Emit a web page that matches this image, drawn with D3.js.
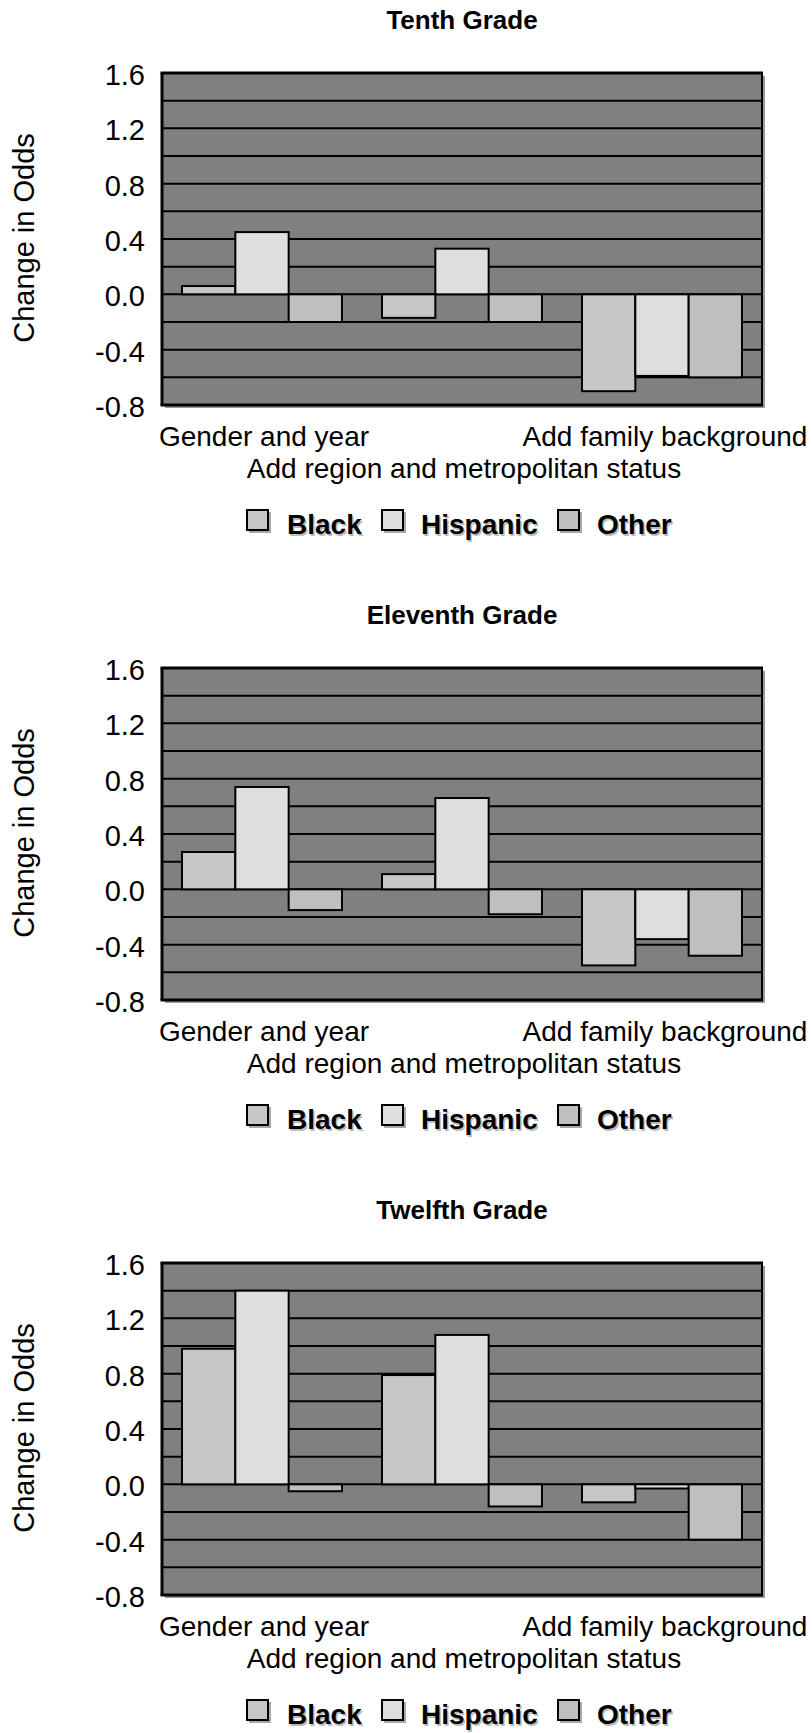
<!DOCTYPE html>
<html>
<head>
<meta charset="utf-8">
<script src="https://cdn.jsdelivr.net/npm/d3@7"></script>
<style>
  html, body { margin: 0; padding: 0; background: #fff; }
  svg { display: block; font-family: "Liberation Sans", Arial, Helvetica, sans-serif; }
</style>
</head>
<body>
<svg id="chart" width="812" height="1733"></svg>
<script>
// ---- data ----
const grades = ["Tenth Grade", "Eleventh Grade", "Twelfth Grade"];
const categories = ["Gender and year", "Add region and metropolitan status", "Add family background"];
const seriesNames = ["Black", "Hispanic", "Other"];
const tenthBlack = [0.06, -0.17, -0.70];
const tenthHispanic = [0.45, 0.33, -0.59];
const tenthOther = [-0.20, -0.20, -0.60];
const eleventhBlack = [0.27, 0.11, -0.55];
const eleventhHispanic = [0.74, 0.66, -0.36];
const eleventhOther = [-0.15, -0.18, -0.48];
const twelfthBlack = [0.98, 0.79, -0.13];
const twelfthHispanic = [1.40, 1.08, -0.03];
const twelfthOther = [-0.05, -0.16, -0.40];
const yTickValues = [-0.8, -0.4, 0.0, 0.4, 0.8, 1.2, 1.6];
const yTickLabels = ["-0.8", "-0.4", "0.0", "0.4", "0.8", "1.2", "1.6"];
const gridValues = [-0.8, -0.6, -0.4, -0.2, 0.0, 0.2, 0.4, 0.6, 0.8, 1.0, 1.2, 1.4, 1.6];
const yTitle = "Change in Odds";

const panels = [
  { title: grades[0], values: [tenthBlack, tenthHispanic, tenthOther] },
  { title: grades[1], values: [eleventhBlack, eleventhHispanic, eleventhOther] },
  { title: grades[2], values: [twelfthBlack, twelfthHispanic, twelfthOther] }
];

// ---- styling / layout ----
const colors = { Black: "#c6c6c6", Hispanic: "#dedede", Other: "#bfbfbf" };
const plotLeft = 162, plotWidth = 600, plotTop = 73, plotHeight = 332;
const panelStep = 595;
const fontSize = 29;
const catFont = 28;
const legendFont = 28;

const svg = d3.select("#chart");

const x0 = d3.scaleBand().domain(categories).range([0, plotWidth]).padding(0);
const x1 = d3.scaleBand().domain(seriesNames).range([0, x0.bandwidth()]).paddingInner(0).paddingOuter(0.375);
const y = d3.scaleLinear().domain([-0.8, 1.6]).range([plotHeight, 0]);

panels.forEach((p, i) => {
  const off = i * panelStep;
  const g = svg.append("g").attr("transform", `translate(${plotLeft},${plotTop + off})`);

  // title
  svg.append("text")
    .attr("x", 462).attr("y", 29 + off)
    .attr("text-anchor", "middle")
    .attr("font-weight", "bold").attr("font-size", 26)
    .text(p.title);

  // shadow of plot frame
  g.append("rect")
    .attr("x", 3).attr("y", 3)
    .attr("width", plotWidth).attr("height", plotHeight)
    .attr("fill", "#9a9a9a");
  // plot background
  g.append("rect")
    .attr("x", 0).attr("y", 0)
    .attr("width", plotWidth).attr("height", plotHeight)
    .attr("fill", "#808080");

  // grid lines
  g.selectAll("line.grid").data(gridValues).enter().append("line")
    .attr("class", "grid")
    .attr("x1", 0).attr("x2", plotWidth)
    .attr("y1", d => y(d)).attr("y2", d => y(d))
    .attr("stroke", "#000").attr("stroke-width", 2);

  // bars
  const rows = categories.map((c, ci) => ({ cat: c, vals: seriesNames.map((s, si) => ({ s, v: p.values[si][ci] })) }));
  const cg = g.selectAll("g.cat").data(rows).enter().append("g")
    .attr("transform", d => `translate(${x0(d.cat)},0)`);
  cg.selectAll("rect").data(d => d.vals).enter().append("rect")
    .attr("x", d => x1(d.s))
    .attr("y", d => y(Math.max(0, d.v)))
    .attr("width", x1.bandwidth())
    .attr("height", d => Math.abs(y(d.v) - y(0)))
    .attr("fill", d => colors[d.s])
    .attr("stroke", "#000").attr("stroke-width", 2);

  // frame
  g.append("line").attr("x1", -1.5).attr("x2", plotWidth + 1).attr("y1", 0).attr("y2", 0)
    .attr("stroke", "#000").attr("stroke-width", 3);
  g.append("line").attr("x1", -1.5).attr("x2", plotWidth + 1).attr("y1", plotHeight).attr("y2", plotHeight)
    .attr("stroke", "#000").attr("stroke-width", 3);
  g.append("line").attr("x1", 0).attr("x2", 0).attr("y1", 0).attr("y2", plotHeight)
    .attr("stroke", "#000").attr("stroke-width", 3);
  g.append("line").attr("x1", plotWidth).attr("x2", plotWidth).attr("y1", 0).attr("y2", plotHeight)
    .attr("stroke", "#000").attr("stroke-width", 2);

  // y axis labels
  const yAxis = d3.axisLeft(y).tickValues(yTickValues)
    .tickFormat((d, k) => yTickLabels[k]).tickSize(0).tickPadding(17);
  const ya = g.append("g").call(yAxis);
  ya.select(".domain").remove();
  ya.selectAll("text")
    .attr("font-size", fontSize)
    .attr("font-family", "'Liberation Sans', Arial, sans-serif")
    .attr("fill", "#000")
    .attr("dy", "0.40em");

  // y title
  svg.append("text")
    .attr("transform", `translate(34,${238 + off}) rotate(-90)`)
    .attr("text-anchor", "middle")
    .attr("font-size", fontSize)
    .text(yTitle);

  // category labels (staggered)
  categories.forEach((c, ci) => {
    svg.append("text")
      .attr("x", plotLeft + x0(c) + x0.bandwidth() / 2 + (ci === 2 ? 3 : 2))
      .attr("y", (ci === 1 ? 478 : 446) + off)
      .attr("text-anchor", "middle")
      .attr("font-size", catFont)
      .text(c);
  });

  // legend
  const legendItems = [
    { s: seriesNames[0], bx: 247, tx: 287 },
    { s: seriesNames[1], bx: 382, tx: 421 },
    { s: seriesNames[2], bx: 558, tx: 597 }
  ];
  legendItems.forEach(it => {
    const lg = svg.append("g");
    lg.append("rect").attr("x", it.bx + 2).attr("y", 512 + off).attr("width", 22).attr("height", 21)
      .attr("fill", "#a8a8a8");
    lg.append("rect").attr("x", it.bx).attr("y", 510 + off).attr("width", 21).attr("height", 20)
      .attr("fill", colors[it.s]).attr("stroke", "#000").attr("stroke-width", 2);
    lg.append("text").attr("x", it.tx + 1.5).attr("y", 535.5 + off)
      .attr("font-size", legendFont).attr("font-weight", "bold").attr("fill", "#bbbbbb")
      .text(it.s);
    lg.append("text").attr("x", it.tx).attr("y", 534 + off)
      .attr("font-size", legendFont).attr("font-weight", "bold").attr("fill", "#000")
      .text(it.s);
  });
});
</script>
</body>
</html>
